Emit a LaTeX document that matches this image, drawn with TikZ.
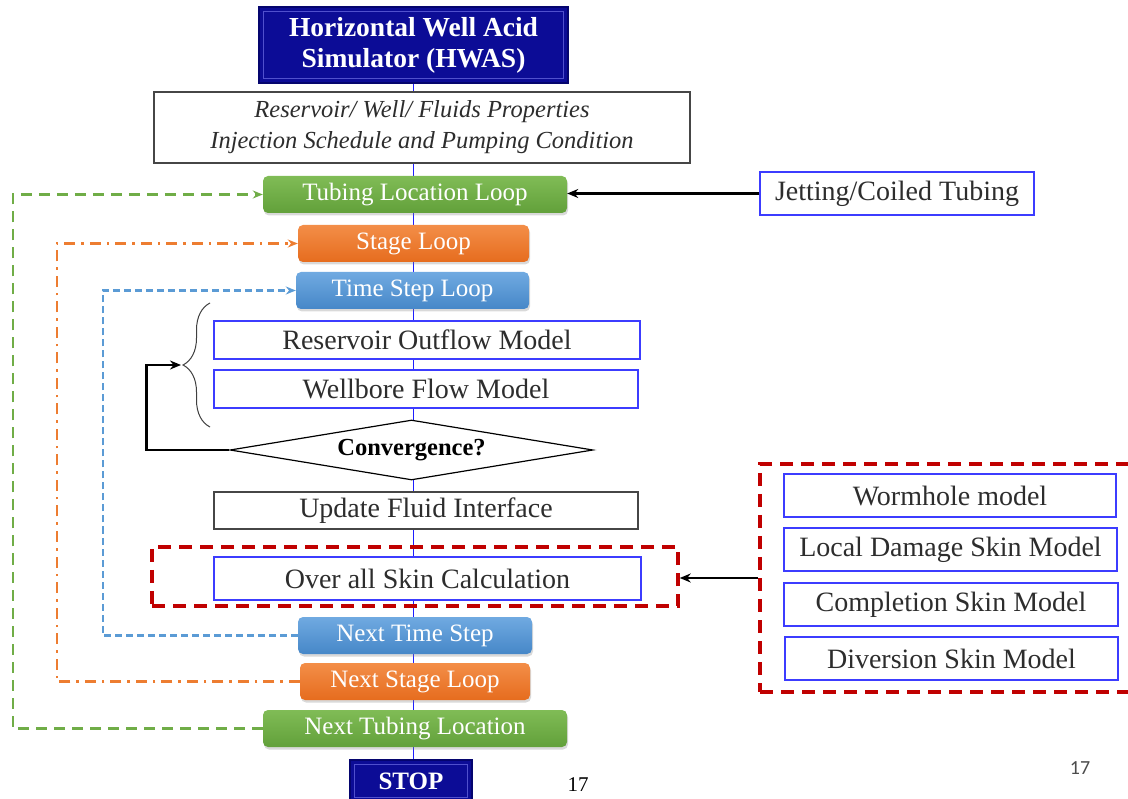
\documentclass[tikz,border=0pt]{standalone}
\usepackage{fontspec}
\setmainfont{Liberation Serif}
\newfontfamily\calib{Carlito}
\usetikzlibrary{shapes.geometric,decorations.pathreplacing,shadows,arrows.meta,backgrounds}
\definecolor{navyb}{RGB}{12,12,150}
\definecolor{navyr}{RGB}{80,80,205}
\definecolor{navyd}{RGB}{5,5,110}
\definecolor{grnT}{RGB}{128,188,86}
\definecolor{grnB}{RGB}{98,160,58}
\definecolor{grnL}{RGB}{112,173,71}
\definecolor{orgT}{RGB}{243,142,72}
\definecolor{orgB}{RGB}{230,108,30}
\definecolor{orgL}{RGB}{237,125,49}
\definecolor{bluT}{RGB}{112,170,225}
\definecolor{bluB}{RGB}{70,135,200}
\definecolor{bluL}{RGB}{91,155,213}
\definecolor{redd}{RGB}{192,0,0}
\definecolor{bbd}{RGB}{60,60,255}
\definecolor{gbd}{RGB}{70,70,70}
\definecolor{txt}{RGB}{45,45,45}
\definecolor{vline}{RGB}{30,30,255}
\begin{document}
\begin{tikzpicture}[x=1pt,y=-1pt,
  navybox/.style={draw=navyd, line width=1.5pt, fill=navyb, text=white, align=center, inner sep=0pt,
    font=\fontsize{27.5}{31}\selectfont\bfseries},
  plainbox/.style={draw=gbd, line width=1.2pt, fill=white, text=txt, inner sep=0pt,
    font=\fontsize{28}{30}\selectfont},
  modelbox/.style={draw=bbd, line width=1.3pt, fill=white, text=txt, inner sep=0pt,
    font=\fontsize{28}{30}\selectfont},
  loopbox/.style={rounded corners=5pt, text=white, inner sep=0pt, minimum height=37pt,
    font=\fontsize{25}{28}\selectfont,
    drop shadow={opacity=0.3, shadow xshift=1pt, shadow yshift=-2.5pt}},
  greenbox/.style={loopbox, top color=grnT, bottom color=grnB},
  orangebox/.style={loopbox, top color=orgT, bottom color=orgB},
  bluebox/.style={loopbox, top color=bluT, bottom color=bluB},
  reddash/.style={draw=redd, line width=3.5pt, dash pattern=on 13pt off 8pt, inner sep=0pt},
  fb/.style={line width=2.5pt, -{Stealth[length=11pt,width=9pt]}},
  greenloop/.style={draw=grnL, line width=2.6pt, dash pattern=on 11pt off 7pt, -{Stealth[length=10pt,width=8pt]}},
  orangeloop/.style={draw=orgL, line width=2.6pt, dash pattern=on 11pt off 6pt on 2.5pt off 6pt, -{Stealth[length=10pt,width=8pt]}},
  blueloop/.style={draw=bluL, line width=2.3pt, dash pattern=on 7pt off 4pt, -{Stealth[length=10pt,width=8pt]}}
]
\useasboundingbox (0,0) rectangle (1128,799);
\clip (0,0) rectangle (1128,799);

% main column
\node[navybox, minimum width=309pt, minimum height=76pt] (title) at (413.5,45) {Horizontal Well Acid\\Simulator (HWAS)};
\node[plainbox, minimum width=536pt, minimum height=71pt, align=center,
      font=\fontsize{24.5}{31}\selectfont\itshape] (input) at (422,127.5)
      {Reservoir/ Well/ Fluids Properties\\Injection Schedule and Pumping Condition};
\node[greenbox, minimum width=304pt] (tub) at (415,194.5) {Tubing Location Loop};
\node[modelbox, minimum width=274pt, minimum height=43pt] (jet) at (897,193.5) {Jetting/Coiled Tubing};
\node[orangebox, minimum width=231pt] (stage) at (413.5,243.5) {Stage Loop};
\node[bluebox, minimum width=233pt] (time) at (412.5,290.5) {Time Step Loop};
\node[modelbox, minimum width=426pt, minimum height=38pt] (res) at (427,340) {Reservoir Outflow Model};
\node[modelbox, minimum width=424pt, minimum height=38pt] (well) at (426,389) {Wellbore Flow Model};
\node[diamond, draw=black, line width=1.2pt, fill=white, aspect=6, inner sep=0pt,
      minimum width=363pt, minimum height=60pt, font=\fontsize{24.5}{26}\selectfont\bfseries] (conv) at (411.5,450) {Convergence?};
\node[plainbox, minimum width=424pt, minimum height=37pt] (upd) at (426,510.5) {Update Fluid Interface};
\node[reddash, minimum width=526pt, minimum height=59pt] (redL) at (415,576.5) {};
\node[modelbox, minimum width=427pt, minimum height=43pt] (skin) at (427.5,578.5) {Over all Skin Calculation};
\node[bluebox, minimum width=234pt] (ntime) at (415,635.5) {Next Time Step};
\node[orangebox, minimum width=230pt] (nstage) at (415,681.5) {Next Stage Loop};
\node[greenbox, minimum width=304pt] (ntub) at (415,728.5) {Next Tubing Location};
\node[navybox, minimum width=122pt, minimum height=42pt, font=\fontsize{25}{28}\selectfont\bfseries] (stop) at (411,781) {STOP};

% bevel edges of the navy boxes
\draw[navyr, line width=1.2pt] ([shift={(5,5)}]title.north west) rectangle ([shift={(-5,-5)}]title.south east);
\draw[navyr, line width=1.2pt] ([shift={(5,5)}]stop.north west) rectangle ([shift={(-5,-5)}]stop.south east);

% right column
\node[reddash, minimum width=375pt, minimum height=228pt] (redR) at (947.5,578) {};
\node[modelbox, minimum width=332pt, minimum height=43pt] (worm) at (950,495.5) {Wormhole model};
\node[modelbox, minimum width=333pt, minimum height=43pt] (ldam) at (950.5,549.5) {Local Damage Skin Model};
\node[modelbox, minimum width=334pt, minimum height=43pt] (comp) at (951,604.5) {Completion Skin Model};
\node[modelbox, minimum width=333pt, minimum height=43pt] (div) at (951.5,658.5) {Diversion Skin Model};

% page numbers
\node[font=\fontsize{21}{22}\selectfont, inner sep=0pt] (pn1) at (578,785) {17};
\node[font=\fontsize{20}{22}\selectfont\calib, text=black!70, inner sep=0pt] (pn2) at (1080,768) {17};

% central line
\begin{scope}[on background layer]
  \draw[vline, line width=1.3pt] (title.south) -- (title.south |- stop.north);
\end{scope}

% brace and feedback
\draw[decorate, decoration={brace, amplitude=27pt, aspect=0.5}, line width=1pt, draw=black!75]
  (210,427) -- (210,303);
\coordinate (btip) at (181,365);
\draw[fb] (conv.west) -- ++(-83,0) |- (btip);

% inputs from right
\draw[fb] (jet.west) -- (jet.west -| tub.east);
\draw[fb] (redR.west) -- (redR.west -| redL.east);

% loops
\draw[greenloop] (ntub.west) -- ++(-250,0) |- (tub.west);
\draw[orangeloop] (nstage.west) -- ++(-243,0) |- (stage.west);
\draw[blueloop] (ntime.west) -- ++(-195,0) |- (time.west);
\end{tikzpicture}
\end{document}
